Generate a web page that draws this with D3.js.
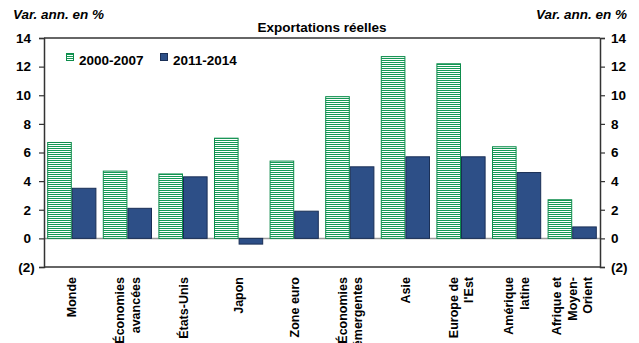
<!DOCTYPE html>
<html>
<head>
<meta charset="utf-8">
<script src="https://cdn.jsdelivr.net/npm/d3@7"></script>
<style>
  body { margin: 0; background: #fff; }
  svg { display: block; font-family: "Liberation Sans", Arial, sans-serif; }
</style>
</head>
<body>
<svg id="chart" width="639" height="343"></svg>
<script>
// Real export growth, average annual % change
const categories = [
  ["Monde"],
  ["Économies", "avancées"],
  ["États-Unis"],
  ["Japon"],
  ["Zone euro"],
  ["Économies", "émergentes"],
  ["Asie"],
  ["Europe de", "l'Est"],
  ["Amérique", "latine"],
  ["Afrique et", "Moyen-", "Orient"]
];
const series2000_2007 = [6.7, 4.7, 4.5, 7.0, 5.4, 9.9, 12.7, 12.2, 6.4, 2.7];
const series2011_2014 = [3.5, 2.1, 4.3, -0.4, 1.9, 5.0, 5.7, 5.7, 4.6, 0.8];
const seriesNames = ["2000-2007", "2011-2014"];
const yTicks = [-2, 0, 2, 4, 6, 8, 10, 12, 14];
const tickLabel = v => v < 0 ? "(" + Math.abs(v) + ")" : String(v);

const svg = d3.select("#chart");
const plotLeft = 44, plotRight = 600, plotTop = 38, plotBottom = 267;

// Horizontal stripe fill for the first period
const defs = svg.append("defs");
const pat = defs.append("pattern")
  .attr("id", "stripes").attr("patternUnits", "userSpaceOnUse")
  .attr("width", 4).attr("height", 2);
pat.append("rect").attr("width", 4).attr("height", 2).attr("fill", "#ffffff");
pat.append("rect").attr("width", 4).attr("height", 1).attr("fill", "#149a56");

const x = d3.scaleBand().domain(d3.range(categories.length)).range([plotLeft, plotRight]).padding(0);
const inner = d3.scaleBand().domain([0, 1]).range([0, x.bandwidth()]).paddingOuter(0.13).paddingInner(0);
const y = d3.scaleLinear().domain([-2, 14]).range([plotBottom, plotTop]);

// Zero line
svg.append("line")
  .attr("x1", plotLeft).attr("x2", plotRight)
  .attr("y1", y(0)).attr("y2", y(0))
  .attr("stroke", "#9a9a9a").attr("stroke-width", 1.5);

const data = categories.map((c, i) => ({ i, vals: [series2000_2007[i], series2011_2014[i]] }));

const groups = svg.append("g").selectAll("g").data(data).join("g")
  .attr("transform", d => `translate(${x(d.i)},0)`);

groups.selectAll("rect").data(d => d.vals.map((v, k) => ({ v, k }))).join("rect")
  .attr("x", d => inner(d.k) + 0.5)
  .attr("width", inner.bandwidth() - 1)
  .attr("y", d => Math.min(y(d.v), y(0)))
  .attr("height", d => Math.abs(y(d.v) - y(0)))
  .attr("fill", d => d.k === 0 ? "url(#stripes)" : "#2d4f87")
  .attr("stroke", d => d.k === 0 ? "#0e8c4c" : "#1a2f56")
  .attr("stroke-width", 1);

// Axes
const axisColor = "#333";
const leftAxis = svg.append("g").attr("transform", `translate(${plotLeft},0)`)
  .call(d3.axisLeft(y).tickValues(yTicks).tickFormat(tickLabel).tickSize(5).tickPadding(8));
const rightAxis = svg.append("g").attr("transform", `translate(${plotRight},0)`)
  .call(d3.axisRight(y).tickValues(yTicks).tickFormat(tickLabel).tickSize(5).tickPadding(6));
[leftAxis, rightAxis].forEach(a => {
  a.select(".domain").attr("stroke", axisColor).attr("stroke-width", 1.5);
  a.selectAll(".tick line").attr("stroke", axisColor).attr("stroke-width", 1.2);
  a.selectAll(".tick text").attr("font-size", 13.5).attr("font-weight", "bold").attr("fill", "#000")
    .attr("font-family", "Liberation Sans, Arial, sans-serif");
});
// negative labels hang their closing parenthesis past the column on the left
leftAxis.selectAll(".tick text").attr("dx", d => d < 0 ? "0.27em" : 0);

// Top frame and bottom axis
svg.append("line").attr("x1", plotLeft).attr("x2", plotRight).attr("y1", plotTop).attr("y2", plotTop)
  .attr("stroke", axisColor).attr("stroke-width", 1.5);
svg.append("line").attr("x1", plotLeft).attr("x2", plotRight).attr("y1", plotBottom).attr("y2", plotBottom)
  .attr("stroke", axisColor).attr("stroke-width", 1.5);

// Category labels (rotated, multi-line)
const lineGap = 15.5;
const labels = svg.append("g").selectAll("text").data(categories).join("text")
  .attr("transform", (c, i) => `translate(${x(i) + x.bandwidth() / 2},277) rotate(-90)`)
  .attr("text-anchor", "end")
  .attr("font-size", 12.5).attr("font-weight", "bold").attr("fill", "#000");
labels.each(function (c) {
  const n = c.length;
  d3.select(this).selectAll("tspan").data(c).join("tspan")
    .attr("x", 0)
    .attr("y", (t, j) => (j - (n - 1) / 2) * lineGap + 4.5)
    .text(t => t);
});

// Titles
svg.append("text").attr("x", 322).attr("y", 32).attr("text-anchor", "middle")
  .attr("font-size", 13.5).attr("font-weight", "bold").text("Exportations réelles");
svg.append("text").attr("x", 13).attr("y", 19)
  .attr("font-size", 13.5).attr("font-weight", "bold").attr("font-style", "italic").text("Var. ann. en %");
svg.append("text").attr("x", 627).attr("y", 19).attr("text-anchor", "end")
  .attr("font-size", 13.5).attr("font-weight", "bold").attr("font-style", "italic").text("Var. ann. en %");

// Legend
const legend = svg.append("g");
const legendItems = [
  { name: seriesNames[0], x: 66, fill: "url(#stripes)", stroke: "#0e8c4c" },
  { name: seriesNames[1], x: 160, fill: "#2d4f87", stroke: "#1a2f56" }
];
legendItems.forEach(it => {
  legend.append("rect").attr("x", it.x + 0.5).attr("y", 53.5).attr("width", 7).attr("height", 7)
    .attr("fill", it.fill).attr("stroke", it.stroke);
  legend.append("text").attr("x", it.x + 13).attr("y", 64.5)
    .attr("font-size", 13.5).attr("font-weight", "bold").text(it.name);
});
</script>
</body>
</html>
